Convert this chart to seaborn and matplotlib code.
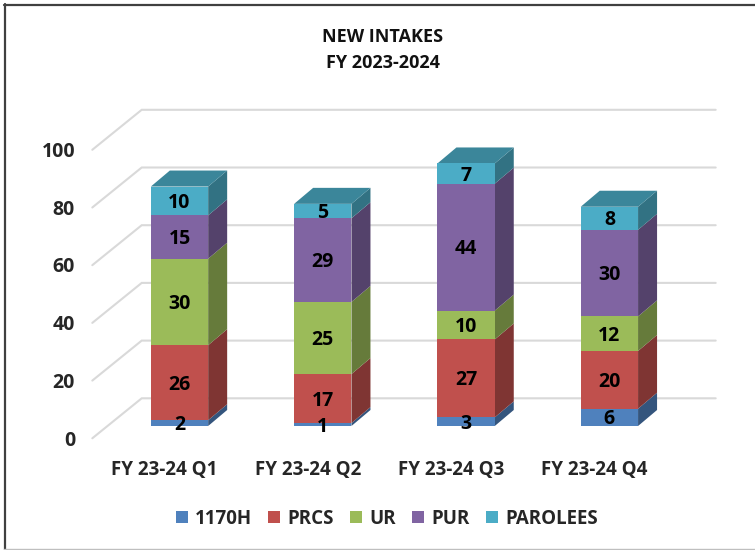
#!/usr/bin/env python

import numpy as np
import matplotlib
matplotlib.use('Agg')
import matplotlib.pyplot as plt
import matplotlib.colors as mcolors
from matplotlib.lines import Line2D
from matplotlib.patches import Polygon
from matplotlib.transforms import ScaledTranslation
import seaborn as sns

quarters = ['FY 23-24 Q1', 'FY 23-24 Q2', 'FY 23-24 Q3', 'FY 23-24 Q4']
series_names = ['1170H', 'PRCS', 'UR', 'PUR', 'PAROLEES']
v_1170h = [2, 1, 3, 6]
v_prcs = [26, 17, 27, 20]
v_ur = [30, 25, 10, 12]
v_pur = [15, 29, 44, 30]
v_parolees = [10, 5, 7, 8]
y_ticks = [0, 20, 40, 60, 80, 100]
colors = ['#4F81BD', '#C0504D', '#9BBB59', '#8064A2', '#4BACC6']

W, H = 755, 550
PX_CAT = 143.3
PX_VAL = 2.885
X0_PX = 179.5   # centre of the first bar
Y0_PX = 426.0   # front bottom of the bars
BAR_W = 0.4
DX = 19 / PX_CAT
DY = 16 / PX_VAL


def px_to_x(px):
    return (px - X0_PX) / PX_CAT


def shade(c, f):
    return tuple(np.array(mcolors.to_rgb(c)) * f)


sns.set_theme(style='white')
plt.rcParams['font.family'] = ['Open Sans', 'DejaVu Sans']
plt.rcParams['font.weight'] = 'bold'

fig = plt.figure(figsize=(W / 100, H / 100), dpi=100)
left, right, top = 100, 716, 130
ax = fig.add_axes([left / W, (H - Y0_PX) / H, (right - left) / W, (Y0_PX - top) / H])

all_series = [v_1170h, v_prcs, v_ur, v_pur, v_parolees]
bottom = np.zeros(len(quarters))
for name, vals, c in zip(series_names, all_series, colors):
    sns.barplot(x=quarters, y=vals, bottom=bottom, color=c, saturation=1,
                width=BAR_W, label=name, ax=ax, zorder=3, linewidth=0, edgecolor='none')
    labs = ax.bar_label(ax.containers[-1], labels=[str(v) for v in vals], label_type='center',
                        fontsize=14, color='black', zorder=6)
    for lab in labs:
        lab.xyann = (0, -1.5)

    # side face of each segment
    for i, v in enumerate(vals):
        xr = i + BAR_W / 2
        b = bottom[i]
        pts = [(xr, b), (xr + DX, b + DY), (xr + DX, b + v + DY), (xr, b + v)]
        ax.add_patch(Polygon(pts, closed=True, fc=shade(c, 0.66), ec='none', zorder=2, clip_on=False))
    bottom = bottom + np.array(vals)

# top face, takes the colour of the last series
for i, total in enumerate(bottom):
    xl, xr = i - BAR_W / 2, i + BAR_W / 2
    pts = [(xl, total), (xl + DX, total + DY), (xr + DX, total + DY), (xr, total)]
    ax.add_patch(Polygon(pts, closed=True, fc=shade(colors[-1], 0.78), ec='none', zorder=2, clip_on=False))

# back wall and left wall lines
back = 9.6
front = -4.26
for v in y_ticks:
    ax.plot([px_to_x(92.3), px_to_x(141.7), px_to_x(715.7)], [v + front, v + back, v + back],
            color='#D9D9D9', lw=1.5, zorder=1, clip_on=False, solid_joinstyle='miter')

ax.set_xlim(px_to_x(left), px_to_x(right))
ax.set_ylim(0, (Y0_PX - top) / PX_VAL)
ax.set_yticks(y_ticks)
ax.tick_params(axis='both', length=0, labelsize=14)
ax.tick_params(axis='y', pad=18)
ax.tick_params(axis='x', pad=24.5)
ax.set_xlabel('')
ax.set_ylabel('')
sns.despine(ax=ax, left=True, bottom=True)

shift_y = ScaledTranslation(0, -12 / 100, fig.dpi_scale_trans)
for lab in ax.get_yticklabels():
    lab.set_transform(lab.get_transform() + shift_y)
    lab.set_fontsize(14)
shift_x = ScaledTranslation(-15 / 100, 0, fig.dpi_scale_trans)
for lab in ax.get_xticklabels():
    lab.set_transform(lab.get_transform() + shift_x)
    lab.set_fontsize(13.5)

fig.text(383 / W, 1 - 50 / H, 'NEW INTAKES\nFY 2023-2024', ha='center', va='center',
         fontsize=13, fontweight='bold', linespacing=1.6, color='#111111')

ax.legend(loc='center', bbox_to_anchor=(387 / W, 1 - 518.5 / H), bbox_transform=fig.transFigure,
          ncol=5, frameon=False, fontsize=13.5, handlelength=0.64, handleheight=0.64,
          handletextpad=0.4, columnspacing=0.85, borderpad=0)

# chart frame
fig.add_artist(Line2D([4.5 / W, 4.5 / W], [1 - 4 / H, 0], color='#404040', lw=1.6))
fig.add_artist(Line2D([4 / W, 1], [1 - 4.5 / H, 1 - 4.5 / H], color='#404040', lw=1.6))
fig.add_artist(Line2D([4 / W, 1], [1 - 549 / H, 1 - 549 / H], color='#BFBFBF', lw=1))

fig.savefig('out.png', dpi=100)
